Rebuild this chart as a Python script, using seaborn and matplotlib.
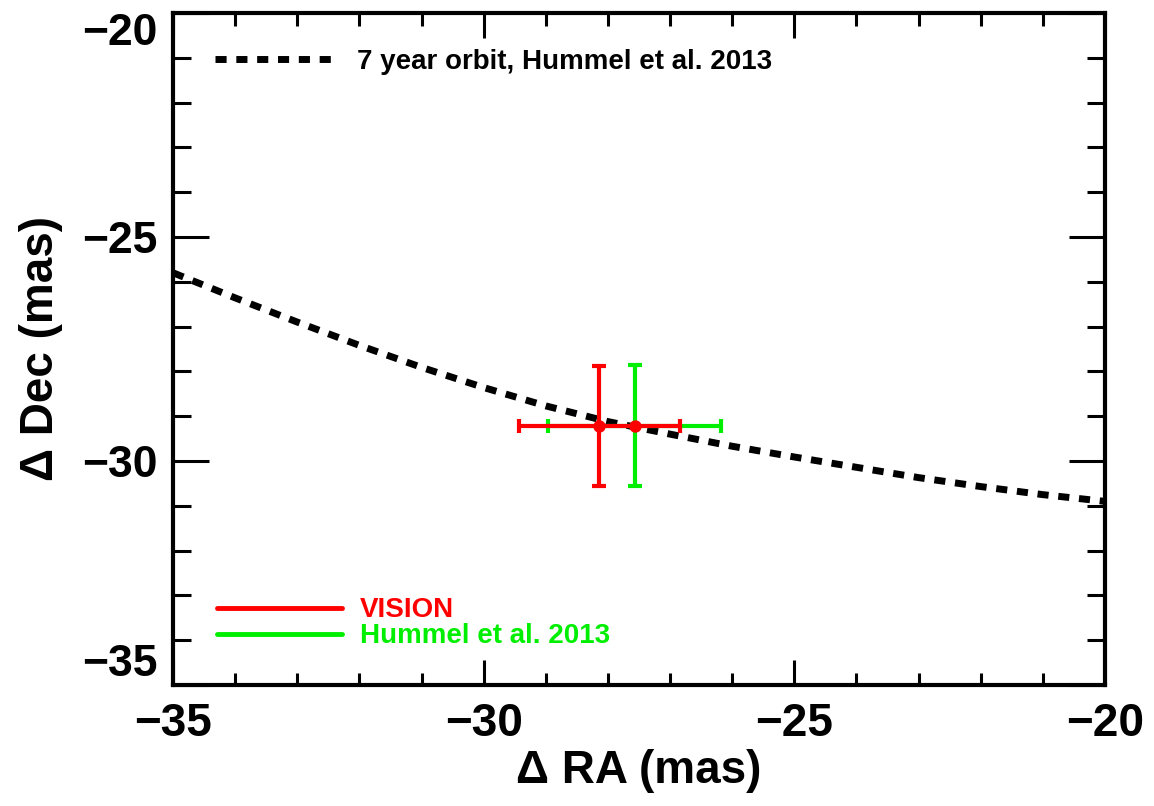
import numpy as np
import pandas as pd
import seaborn as sns
from matplotlib import pyplot as plt
from matplotlib.lines import Line2D

# orbit track (mas)
orbit_ra = [-35, -34, -33, -32, -31, -30, -29, -28, -27, -26, -25, -24, -23, -22, -21, -20]
orbit_dec = [-25.80, -26.36, -26.90, -27.42, -27.91, -28.36, -28.77, -29.12,
             -29.40, -29.67, -29.91, -30.14, -30.37, -30.57, -30.75, -30.90]

# measured positions (mas)
point_names = ["VISION", "Hummel et al. 2013"]
point_ra = [-28.14, -27.57]
point_dec = [-29.21, -29.21]
point_ra_err = [1.30, 1.39]
point_dec_err = [1.34, 1.35]
point_colors = ["#ff0000", "#00ee00"]

x_ticks = [-35, -30, -25, -20]
y_ticks = [-35, -30, -25, -20]


def plot_orbit(file_name):
    sns.set_theme(style="ticks")
    plt.rcParams['font.family'] = ['Liberation Sans', 'DejaVu Sans']
    plt.rcParams['font.weight'] = 'bold'
    plt.rcParams['axes.labelweight'] = 'bold'
    for key in ['text.color', 'axes.labelcolor', 'xtick.color', 'ytick.color', 'axes.edgecolor']:
        plt.rcParams[key] = 'black'

    fig = plt.figure(figsize=(11.54, 8.06), dpi=100)
    ax = fig.add_axes([0.150, 0.150, 0.8075, 0.834])

    orbit_df = pd.DataFrame({"ra": orbit_ra, "dec": orbit_dec})
    sns.lineplot(data=orbit_df, x="ra", y="dec", sort=False, ax=ax, color="black",
                 linewidth=5, dashes=False, zorder=2)
    ax.lines[-1].set_dashes((1.6, 1.4))
    ax.lines[-1].set_dash_capstyle('butt')

    # green first, red on top
    for i in [1, 0]:
        ax.errorbar(point_ra[i], point_dec[i], xerr=point_ra_err[i], yerr=point_dec_err[i],
                    fmt='none', ecolor=point_colors[i], elinewidth=3, capsize=4.7,
                    capthick=3, zorder=3 + (1 - i))
    pts_df = pd.DataFrame({"ra": point_ra, "dec": point_dec})
    sns.scatterplot(data=pts_df, x="ra", y="dec", ax=ax, color="#ff0000", s=80,
                    linewidth=0, zorder=6)

    ax.set_xlim(-35, -20)
    ax.set_ylim(-35, -20)
    ax.set_xticks(x_ticks)
    ax.set_yticks(y_ticks)
    ax.set_xticks(np.arange(-35, -19), minor=True)
    ax.set_yticks(np.arange(-35, -19), minor=True)
    ax.set_xticklabels(["\u2212" + str(abs(v)) for v in x_ticks])
    ax.set_yticklabels(["\u2212" + str(abs(v)) for v in y_ticks])
    ax.tick_params(axis='x', which='major', direction='in', length=18, width=2.2,
                   top=True, bottom=True, labelsize=33, pad=12)
    ax.tick_params(axis='x', which='minor', direction='in', length=9, width=2.2,
                   top=True, bottom=True)
    ax.tick_params(axis='y', which='major', direction='in', length=26, width=2.2,
                   left=True, right=True, labelsize=32, pad=11)
    ax.tick_params(axis='y', which='minor', direction='in', length=13, width=2.2,
                   left=True, right=True)
    labels = ax.get_yticklabels()
    labels[0].set_va('bottom')
    labels[-1].set_va('top')
    for spine in ax.spines.values():
        spine.set_linewidth(3)
        spine.set_color("black")

    ax.set_xlabel("\u0394 RA (mas)", fontsize=33, labelpad=2)
    ax.set_ylabel("\u0394 Dec (mas)", fontsize=33, labelpad=14)

    orbit_handle = [Line2D([], [], color="black", linewidth=5, dashes=(1.6, 1.4))]
    leg1 = ax.legend(orbit_handle, ["7 year orbit, Hummel et al. 2013"], loc='center left',
                     bbox_to_anchor=(0.045, 0.927), frameon=False, borderpad=0,
                     borderaxespad=0, handlelength=4.3, handletextpad=0.8,
                     prop={'size': 20, 'weight': 'bold'})
    ax.add_artist(leg1)
    point_handles = [Line2D([], [], color=c, linewidth=3.5) for c in point_colors]
    ax.legend(point_handles, point_names, loc='center left', bbox_to_anchor=(0.047, 0.092),
              frameon=False, borderpad=0, borderaxespad=0, handlelength=4.5,
              handletextpad=0.65, labelspacing=0.0, labelcolor=point_colors,
              prop={'size': 20, 'weight': 'bold'})

    plt.savefig(file_name, dpi=100)


def main():
    plot_orbit("out.png")


if __name__ == "__main__":
    main()
